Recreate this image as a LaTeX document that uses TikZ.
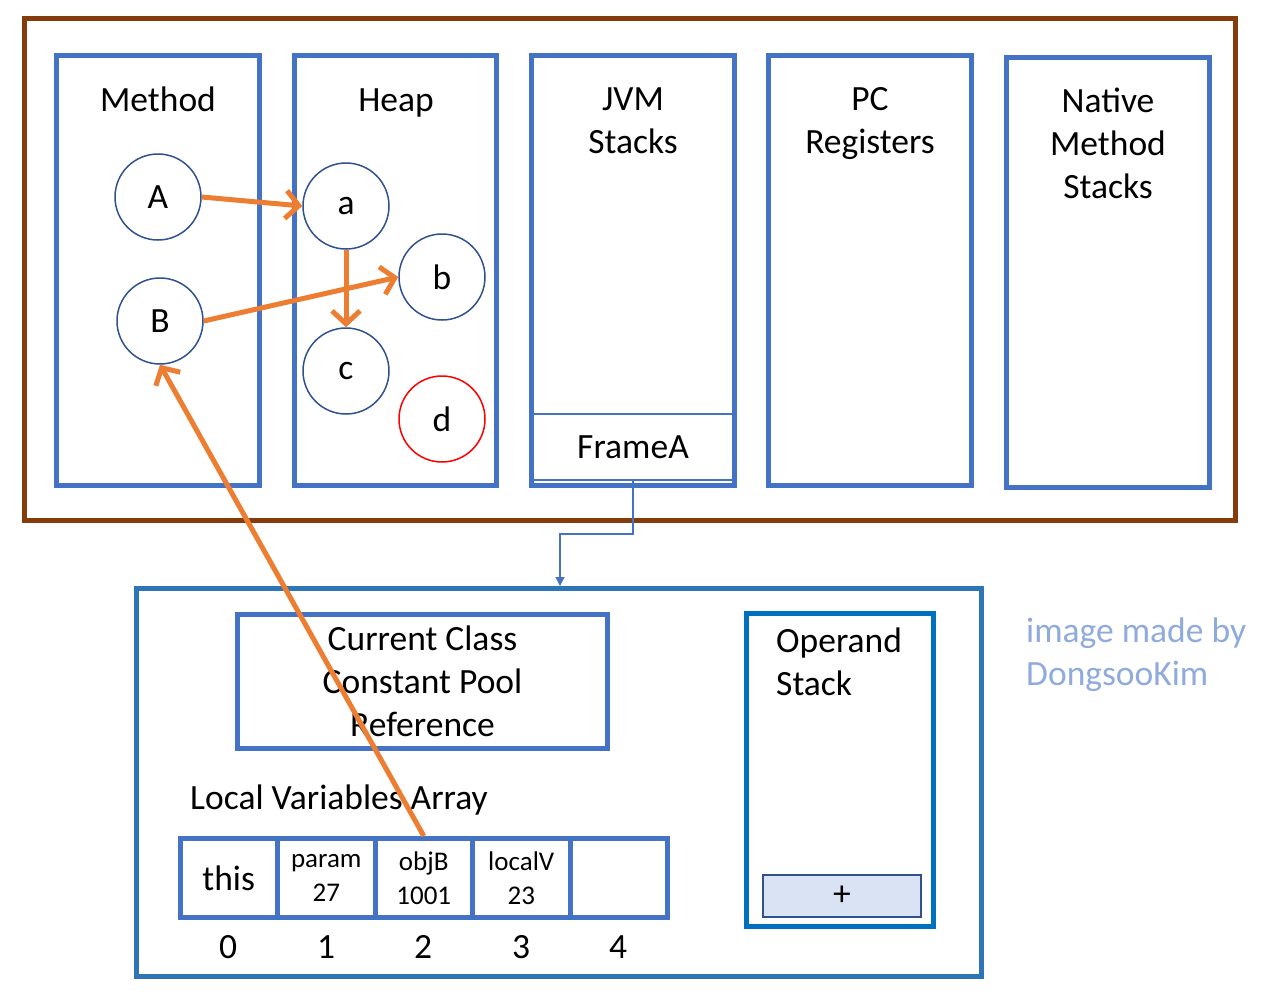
\documentclass[tikz,border=0pt]{standalone}
\usepackage{fontspec}
\setmainfont{Carlito}
\usetikzlibrary{arrows.meta}
\definecolor{boxblue}{HTML}{4472C4}
\definecolor{brownc}{HTML}{843C0C}
\definecolor{cirblue}{HTML}{2F528F}
\definecolor{orng}{HTML}{ED7D31}
\definecolor{frameblue}{HTML}{2E75B6}
\definecolor{opblue}{HTML}{0070C0}
\definecolor{plusfill}{HTML}{DAE3F3}
\definecolor{wmark}{HTML}{8FAADC}
\begin{document}
\begin{tikzpicture}[x=1pt,y=-1pt,
  big/.style={font=\fontsize{35.5}{43}\selectfont},
  small/.style={font=\fontsize{27}{34}\selectfont},
  area/.style={draw=boxblue,line width=5pt,minimum width=203pt,minimum height=430pt,inner sep=0pt},
  lbl/.style={big,inner sep=0pt,align=center,anchor=base},
  obj/.style={circle,draw=cirblue,line width=1.5pt,minimum size=86pt,inner sep=0pt,big},
  ref/.style={draw=orng,line width=5pt,-{Straight Barb[length=13pt,width=28pt]}},
  cellbox/.style={draw=boxblue,line width=5pt,minimum width=97.5pt,minimum height=79pt,inner sep=0pt,align=center},
  idx/.style={big,inner sep=0pt,anchor=base},
]
\useasboundingbox (0,0) rectangle (1266,1004);
% runtime data area
\node[draw=brownc,line width=5pt,minimum width=1211pt,minimum height=502pt,inner sep=0pt] (runtime) at (630,269.5) {};
\node[area] (method) at (158,270.5) {};
\node[area,minimum width=202pt] (heap) at (395.5,270.5) {};
\node[area] (jvm) at (633,270.5) {};
\node[area] (pc) at (870,270.5) {};
\node[area] (native) at (1108,272.5) {};
\node[lbl] (methodl) at (158,111) {Method};
\node[lbl] (heapl) at (396,111) {Heap};
\node[lbl] (jvml) at (633,153) {JVM\\Stacks};
\node[lbl] (pcl) at (870,153) {PC\\Registers};
\node[lbl] (nativel) at (1108,198) {Native\\Method\\Stacks};
% frame
\node[draw=boxblue,line width=2pt,minimum width=202pt,minimum height=66pt,inner sep=0pt,big] (frameA) at (633,447) {FrameA};
% objects
\node[obj] (A) at (158,197) {A};
\node[obj] (a) at (346,206) {a};
\node[obj] (b) at (442,277) {b};
\node[obj] (B) at (160,321) {B};
\node[obj] (c) at (346,371) {c};
\node[obj,draw=red] (d) at (442,419) {d};
% frame detail
\node[draw=frameblue,line width=5pt,minimum width=845pt,minimum height=388pt,inner sep=0pt] (frame) at (559,782.5) {};
\coordinate (k) at (560,534);
\draw[boxblue,line width=1.2pt,-{Triangle[length=9pt,width=9pt]}] (frameA.south) |- (k) -- (k |- frame.north);
\node[draw=boxblue,line width=5pt,minimum width=370pt,minimum height=134pt,inner sep=0pt,align=center,big] (ccp) at (422.5,681.5) {Current Class\\Constant Pool\\Reference};
\node[draw=opblue,line width=5pt,minimum width=187pt,minimum height=313pt,inner sep=0pt] (opstack) at (840,770) {};
\node[big,inner sep=0pt,align=left,anchor=base west] (opl) at (776,695) {Operand\\Stack};
\node[draw=cirblue,fill=plusfill,line width=1.5pt,minimum width=158pt,minimum height=42pt,inner sep=0pt,big] (plus) at (842,896) {+};
\node[lbl] (lva) at (339,809) {Local Variables Array};
\node[cellbox,big] (c0) at (228.75,878) {this};
\node[cellbox,small] (c1) at (326.25,878) {param\\27};
\node[cellbox,small] (c2) at (423.75,878) {objB\\1001};
\node[cellbox,small] (c3) at (521.25,878) {localV\\23};
\node[cellbox] (c4) at (618.75,878) {};
\node[idx] (i0) at (228,958) {0};
\node[idx] (i1) at (326,958) {1};
\node[idx] (i2) at (423,958) {2};
\node[idx] (i3) at (521,958) {3};
\node[idx] (i4) at (618,958) {4};
\node[big,inner sep=0pt,align=left,anchor=base west,text=wmark] (wm) at (1026,685) {image made by\\DongsooKim};
% references
\draw[ref] (A.east) -- (a.west);
\draw[ref] (a.south) -- (c.north);
\draw[ref] (B.east) -- (b.west);
\draw[ref] (c2.north) -- (B.south);
\end{tikzpicture}
\end{document}
